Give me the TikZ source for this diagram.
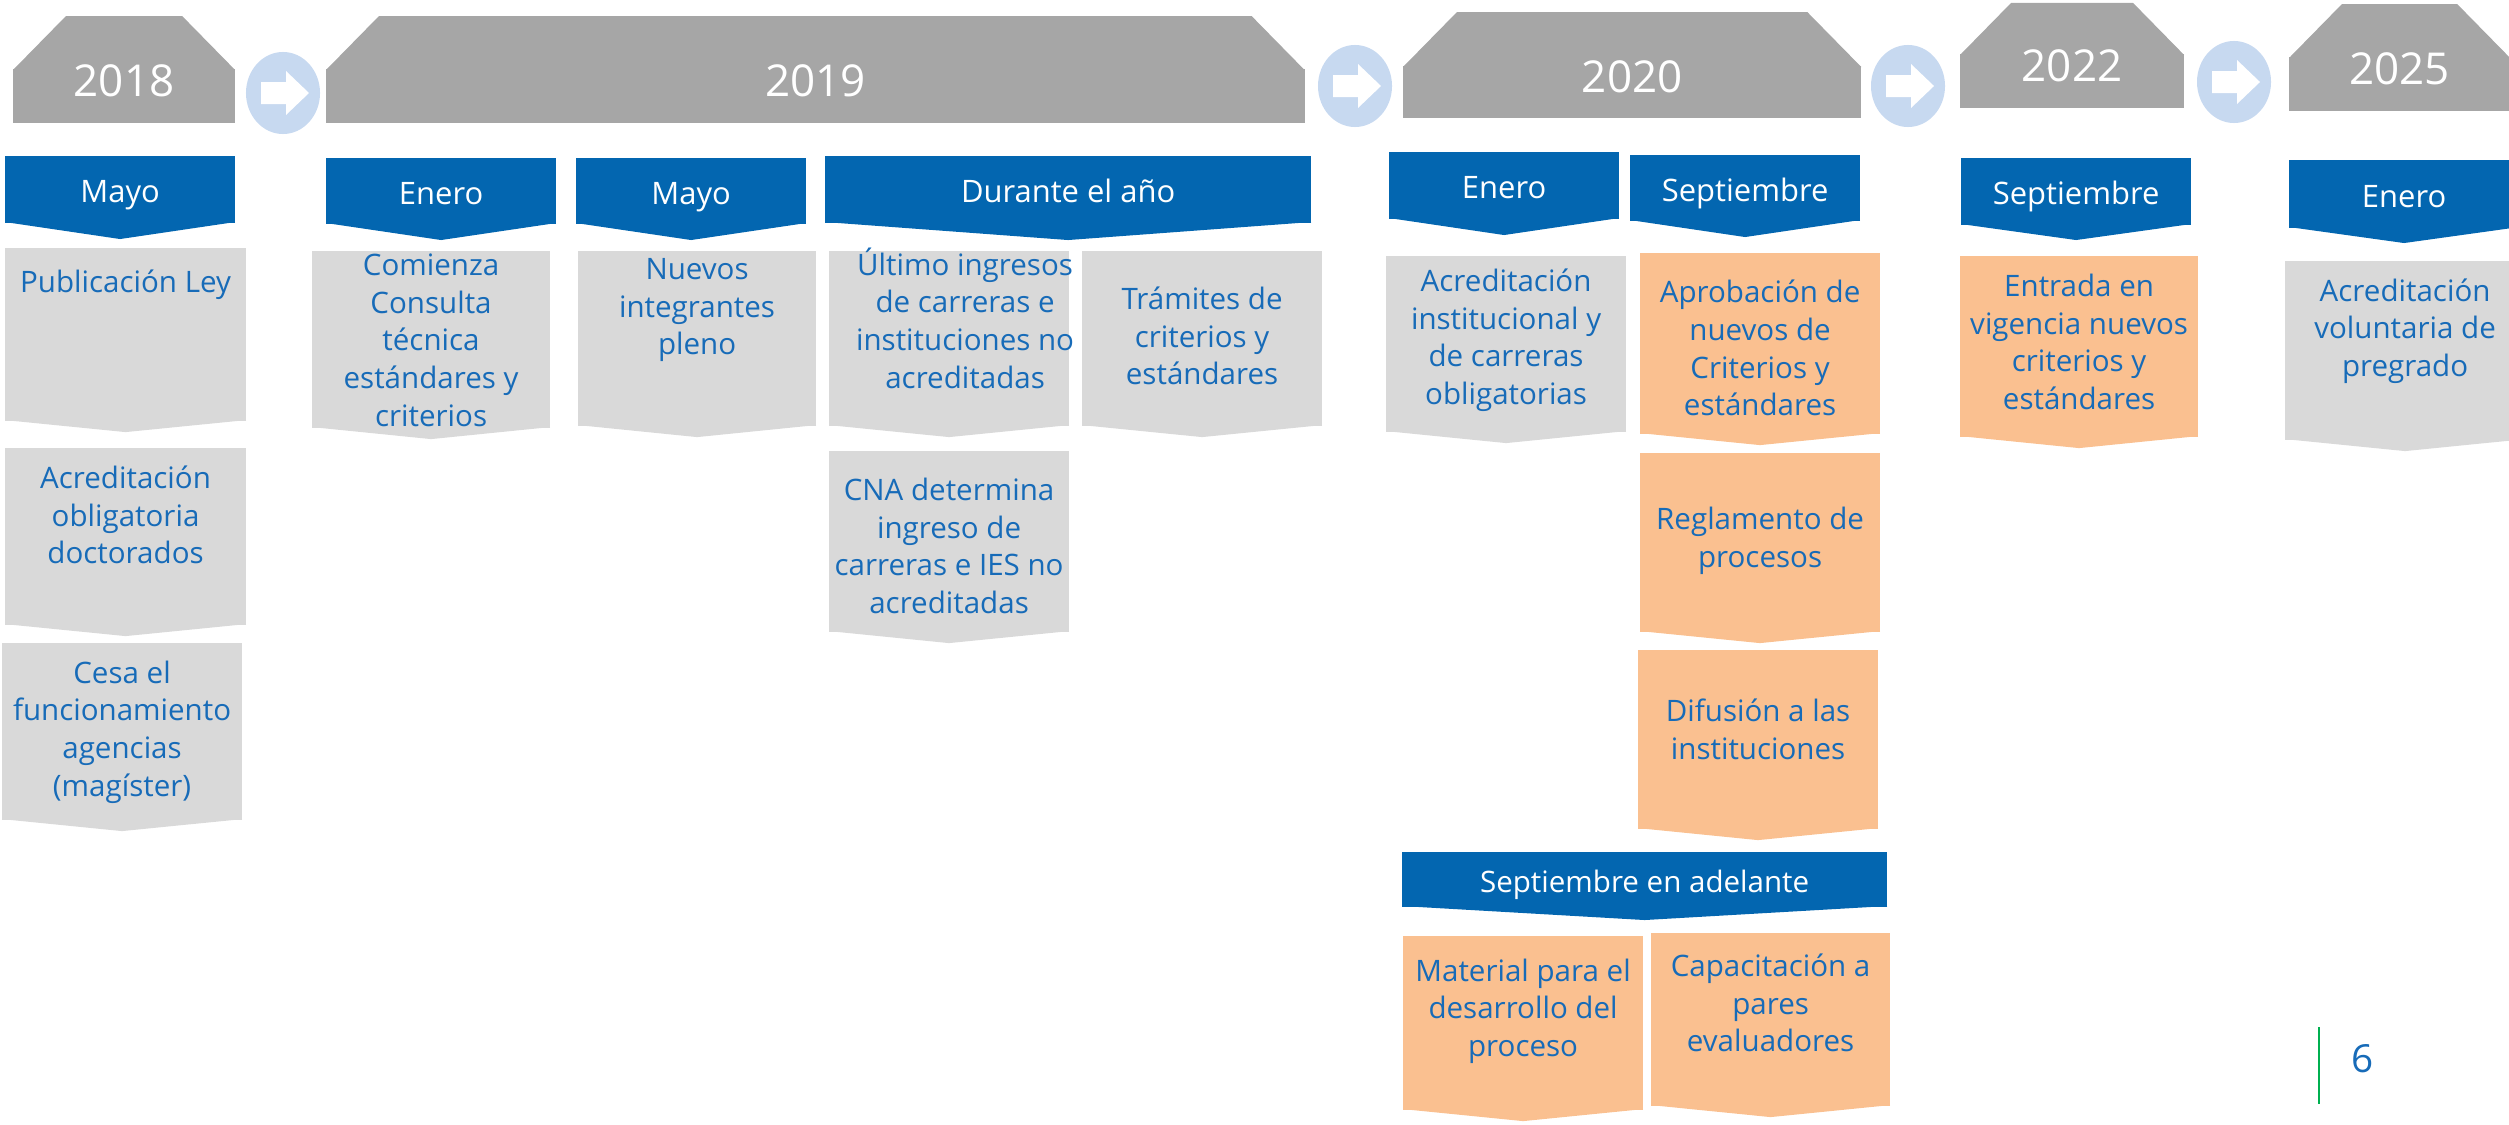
\documentclass[tikz,border=0pt]{standalone}
\usepackage{fontspec}
\setmainfont{Open Sans}
\usepackage{tikz}
\usetikzlibrary{shapes.geometric, calc}
\definecolor{yearGray}{RGB}{166, 166, 166}
\definecolor{boxGray}{RGB}{217, 217, 217}
\definecolor{boxOrange}{RGB}{250, 192, 144}
\definecolor{monthBlue}{RGB}{3, 102, 176}
\definecolor{textBlue}{RGB}{23, 107, 184}
\definecolor{circleBlue}{RGB}{199, 217, 240}
\definecolor{pageGreen}{RGB}{0, 176, 80}
\newcommand{\boxFont}{\fontsize{8.4pt}{10.7pt}\selectfont}
\newcommand{\monthFont}{\fontsize{8.8pt}{10.7pt}\selectfont}
\newcommand{\yearFont}{\fontsize{12.5pt}{15pt}\selectfont}
\tikzstyle{yearbox} = [rectangle, fill=yearGray, inner sep=0, outer sep=0]
\tikzstyle{yeartext} = [text=white, font=\yearFont, inner sep=0]
\tikzstyle{monthbox} = [rectangle, fill=monthBlue, text=white, font=\monthFont, inner sep=0, outer sep=0, minimum width=23mm, text height=1.6ex, text depth=0.2ex]
\tikzstyle{itembox} = [rectangle, inner sep=0, outer sep=0, minimum width=24mm]
\tikzstyle{graystyle} = [fill=boxGray]
\tikzstyle{orangestyle} = [fill=boxOrange]
\tikzstyle{itemtext} = [text=textBlue, font=\boxFont, align=center, inner sep=0]
\tikzstyle{nextcircle} = [ellipse, fill=circleBlue, minimum width=7.4mm, minimum height=8.2mm, inner sep=0]

\begin{document}
\begin{tikzpicture}[x=0.01cm, y=-0.01cm]
\useasboundingbox (0,0) rectangle (2509,1124);

% years
\node (y18) [yearbox, minimum width=22.2mm, minimum height=5.4mm, anchor=north west] at(13,69) {};
\node (y19) [yearbox, minimum width=97.8mm, minimum height=5.4mm, anchor=north west] at(326,69) {};
\node (y20) [yearbox, minimum width=45.8mm, minimum height=5.2mm, anchor=north west] at(1403,66) {};
\node (y22) [yearbox, minimum width=22.4mm, minimum height=5.4mm, anchor=north west] at(1960,54) {};
\node (y25) [yearbox, minimum width=22.1mm, minimum height=5.4mm, anchor=north west] at(2289,57) {};
\foreach \n/\d in {y18/53, y19/53, y20/54, y22/51, y25/53}
  \fill[yearGray] ($(\n.north west)+(0,1)$) -- ($(\n.north west)+(\d,-\d)$) -- ($(\n.north east)+(-\d,-\d)$) -- ($(\n.north east)+(0,1)$) -- cycle;
\node (y18T) [yeartext, yshift=1.5mm] at(y18.center) {2018};
\node (y19T) [yeartext, yshift=1.5mm] at(y19.center) {2019};
\node (y20T) [yeartext, yshift=1.5mm] at(y20.center) {2020};
\node (y22T) [yeartext, yshift=1.5mm] at(y22.center) {2022};
\node (y25T) [yeartext, yshift=1.5mm] at(y25.center) {2025};

% arrows between years
\foreach \n/\x/\y in {c1/283/93, c2/1355/86, c3/1908/86, c4/2234/82} {
  \node (\n) [nextcircle] at(\x,\y) {};
  \fill[white] ($(\n.center)+(-22,-11)$) -- ++(25,0) -- ++(0,-11) -- ++(23,22) -- ++(-23,22) -- ++(0,-11) -- ++(-25,0) -- cycle;
}

% months
\node (m18) [monthbox, minimum height=6.7mm, anchor=north west] at(5,156) {Mayo};
\node (e19) [monthbox, minimum height=6.6mm, anchor=north west] at(326,158) {Enero};
\node (m19) [monthbox, minimum height=6.6mm, anchor=north west] at(576,158) {Mayo};
\node (d19) [monthbox, minimum width=48.6mm, minimum height=6.7mm, anchor=north west] at(825,156) {Durante el año};
\node (e20) [monthbox, minimum height=6.7mm, anchor=north west] at(1389,152) {Enero};
\node (s20) [monthbox, minimum height=6.6mm, anchor=north west] at(1630,155) {Septiembre};
\node (s22) [monthbox, minimum height=6.7mm, anchor=north west] at(1961,158) {Septiembre};
\node (e25) [monthbox, minimum height=6.8mm, anchor=north west] at(2289,160) {Enero};
\node (sa20) [monthbox, font=\boxFont, minimum width=48.5mm, minimum height=5.5mm, anchor=north west] at(1402,852) {Septiembre en adelante};
\foreach \n/\d in {m18/16, e19/16, m19/16, d19/17, e20/16, s20/16, s22/15, e25/15, sa20/13}
  \fill[monthBlue] ($(\n.south west)+(0,-1)$) -- ($(\n.south)+(0,\d)$) -- ($(\n.south east)+(0,-1)$) -- cycle;

% boxes
\node (pub18) [itembox, graystyle, minimum width=24.1mm, minimum height=17.3mm, anchor=north west] at(5,248) {};
\node (acr18) [itembox, graystyle, minimum width=24.1mm, minimum height=17.7mm, anchor=north west] at(5,448) {};
\node (ces18) [itembox, graystyle, minimum height=17.7mm, anchor=north west] at(2,643) {};
\node (com19) [itembox, graystyle, minimum width=23.8mm, minimum height=17.7mm, anchor=north west] at(312,251) {};
\node (nue19) [itembox, graystyle, minimum width=23.8mm, minimum height=17.5mm, anchor=north west] at(578,251) {};
\node (ult19) [itembox, graystyle, minimum height=17.5mm, anchor=north west] at(829,251) {};
\node (tra19) [itembox, graystyle, minimum height=17.5mm, anchor=north west] at(1082,251) {};
\node (cna19) [itembox, graystyle, minimum height=18.1mm, anchor=north west] at(829,451) {};
\node (acr20) [itembox, graystyle, minimum height=17.6mm, anchor=north west] at(1386,256) {};
\node (apr20) [itembox, orangestyle, minimum height=18.1mm, anchor=north west] at(1640,253) {};
\node (reg20) [itembox, orangestyle, minimum height=17.9mm, anchor=north west] at(1640,453) {};
\node (dif20) [itembox, orangestyle, minimum height=17.9mm, anchor=north west] at(1638,650) {};
\node (mat20) [itembox, orangestyle, minimum height=17.4mm, anchor=north west] at(1403,936) {};
\node (cap20) [itembox, orangestyle, minimum width=23.9mm, minimum height=17.3mm, anchor=north west] at(1651,933) {};
\node (ent22) [itembox, orangestyle, minimum width=23.8mm, minimum height=18.1mm, anchor=north west] at(1960,256) {};
\node (acr25) [itembox, graystyle, minimum height=17.9mm, anchor=north west] at(2285,261) {};
\foreach \n/\c in {pub18/boxGray, acr18/boxGray, ces18/boxGray, com19/boxGray, nue19/boxGray, ult19/boxGray, tra19/boxGray, cna19/boxGray, acr20/boxGray, apr20/boxOrange, reg20/boxOrange, dif20/boxOrange, mat20/boxOrange, cap20/boxOrange, ent22/boxOrange, acr25/boxGray}
  \fill[\c] ($(\n.south west)+(0,-1)$) -- ($(\n.south)+(0,11)$) -- ($(\n.south east)+(0,-1)$) -- cycle;

\node (pub18T) [itemtext, yshift=-3.7mm] at(pub18.north) {Publicación Ley};
\node (acr18T) [itemtext, yshift=-6.7mm] at(acr18.north) {Acreditación\\obligatoria\\doctorados};
\node (ces18T) [itemtext, yshift=-8.9mm] at(ces18.north) {Cesa el\\funcionamiento\\agencias\\(magíster)};
\node (com19T) [itemtext, yshift=-8.9mm] at(com19.north) {Comienza\\Consulta\\técnica\\estándares y\\criterios};
\node (nue19T) [itemtext, yshift=-5.9mm] at(nue19.north) {Nuevos\\integrantes\\pleno};
\node (ult19T) [itemtext, yshift=-6.7mm, xshift=1.6mm] at(ult19.north) {Último ingresos\\de carreras e\\instituciones no\\acreditadas};
\node (tra19T) [itemtext, yshift=-8.5mm] at(tra19.north) {Trámites de\\criterios y\\estándares};
\node (cna19T) [itemtext, yshift=-9.5mm] at(cna19.north) {CNA determina\\ingreso de\\carreras e IES no\\acreditadas};
\node (acr20T) [itemtext, yshift=-8.4mm] at(acr20.north) {Acreditación\\institucional y\\de carreras\\obligatorias};
\node (apr20T) [itemtext, yshift=-9.5mm] at(apr20.north) {Aprobación de\\nuevos de\\Criterios y\\estándares};
\node (reg20T) [itemtext, yshift=-8.8mm] at(reg20.north) {Reglamento de\\procesos};
\node (dif20T) [itemtext, yshift=-7.9mm] at(dif20.north) {Difusión a las\\instituciones};
\node (mat20T) [itemtext, yshift=-7.5mm] at(mat20.north) {Material para el\\desarrollo del\\proceso};
\node (cap20T) [itemtext, yshift=-7.0mm] at(cap20.north) {Capacitación a\\pares\\evaluadores};
\node (ent22T) [itemtext, yshift=-8.6mm] at(ent22.north) {Entrada en\\vigencia nuevos\\criterios y\\estándares};
\node (acr25T) [itemtext, yshift=-7.0mm] at(acr25.north) {Acreditación\\voluntaria de\\pregrado};

% page number
\draw[pageGreen, line width=0.8pt] (2319,1027) -- (2319,1104);
\node (pageNum) [text=textBlue, font=\fontsize{11pt}{13pt}\selectfont, inner sep=0] at(2363,1059) {6};

\end{tikzpicture}
\end{document}
